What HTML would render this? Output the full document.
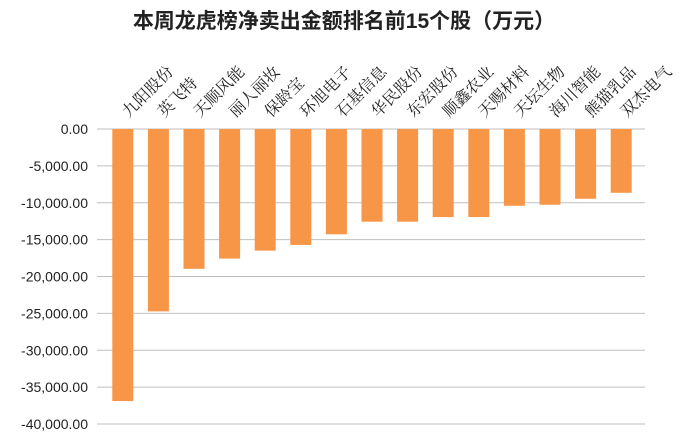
<!DOCTYPE html>
<html><head><meta charset="utf-8"><style>
body{margin:0;background:#fff;}
svg text{font-family:"Liberation Sans","Noto Sans CJK SC",sans-serif;}
</style></head><body>
<svg width="693" height="436" xmlns="http://www.w3.org/2000/svg">
<text x="344" y="28" text-anchor="middle" font-size="21" font-weight="bold" fill="#222">本周龙虎榜净卖出金额排名前15个股（万元）</text>
<g id="grid"></g><g id="bars"></g><g id="labels"></g>
</svg>
<script>
const categories=["九阳股份","英飞特","天顺风能","丽人丽妆","保龄宝","环旭电子","石基信息","华民股份","东宏股份","顺鑫农业","天赐材料","天坛生物","海川智能","熊猫乳品","双杰电气"];
const values=[-36890,-24730,-18960,-17570,-16490,-15720,-14280,-12570,-12570,-11940,-11940,-10410,-10270,-9460,-8650];
const ticks=[0,-5000,-10000,-15000,-20000,-25000,-30000,-35000,-40000];
const ns="http://www.w3.org/2000/svg";
const x0=105,x1=639,gx0=97,gx1=645,yTop=129,yBot=424,vmin=-40000;
const y=v=>yTop+(v/vmin)*(yBot-yTop);
const band=(x1-x0)/categories.length;
const g=document.getElementById('grid'),b=document.getElementById('bars'),l=document.getElementById('labels');
ticks.forEach(t=>{
 const ln=document.createElementNS(ns,'line');
 
 
 ln.setAttribute('x1',gx0);ln.setAttribute('x2',gx1);ln.setAttribute('y1',y(t));ln.setAttribute('y2',y(t));
 ln.setAttribute('stroke','#bfbfbf');ln.setAttribute('stroke-width','1');g.appendChild(ln);
 const tx=document.createElementNS(ns,'text');
 
 
 tx.setAttribute('x',88);tx.setAttribute('y',y(t)+5);tx.setAttribute('text-anchor','end');
 tx.setAttribute('font-size','14');tx.setAttribute('fill','#222');
 tx.textContent=t.toLocaleString('en-US',{minimumFractionDigits:2,maximumFractionDigits:2});
 g.appendChild(tx);
});
values.forEach((v,i)=>{
 const cx=x0+band*(i+0.5),w=21;
 const r=document.createElementNS(ns,'rect');
 
 
 r.setAttribute('x',cx-w/2);r.setAttribute('y',y(0));r.setAttribute('width',w);r.setAttribute('height',y(v)-y(0));
 r.setAttribute('fill','#f79646');b.appendChild(r);
 const tx=document.createElementNS(ns,'text');
 
 
 tx.setAttribute('transform','translate('+(cx+6)+',118) rotate(-45)');
 tx.setAttribute('font-size','16');tx.setAttribute('fill','#222');
 tx.setAttribute('style','font-family:"Liberation Serif","Noto Serif CJK SC",serif');
 tx.textContent=categories[i];l.appendChild(tx);
});
</script>
</body></html>
